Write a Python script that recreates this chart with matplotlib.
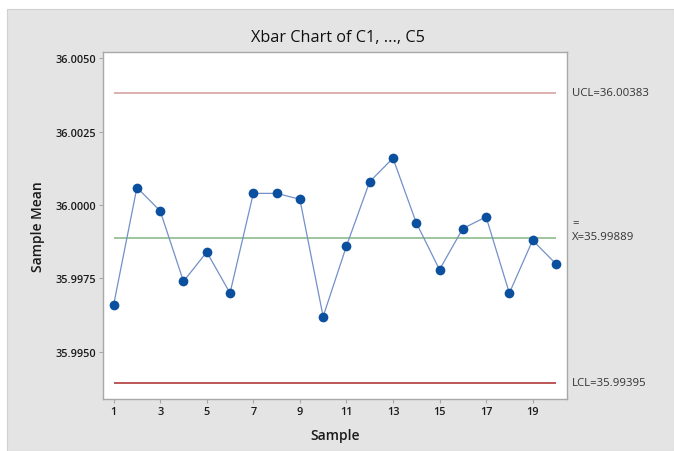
import matplotlib
matplotlib.use("Agg")
import matplotlib.pyplot as plt
from matplotlib.patches import Rectangle

# Subgroup means for samples 1..20
samples = list(range(1, 21))
means = [35.9966, 36.0006, 35.9998, 35.9974, 35.9984, 35.9970, 36.0004, 36.0004,
         36.0002, 35.9962, 35.9986, 36.0008, 36.0016, 35.9994, 35.9978, 35.9992,
         35.9996, 35.9970, 35.9988, 35.9980]

ucl = 36.00383
center = 35.99889
lcl = 35.99395

yticks = [35.9950, 35.9975, 36.0000, 36.0025, 36.0050]
ytick_labels = ["35.9950", "35.9975", "36.0000", "36.0025", "36.0050"]
xticks = [1, 3, 5, 7, 9, 11, 13, 15, 17, 19]

plt.rcParams['font.family'] = ['Open Sans', 'DejaVu Sans']

W, H = 674, 452
fig = plt.figure(figsize=(W / 100, H / 100), dpi=100, facecolor="white")

# gray panel behind the chart
panel = Rectangle((7 / W, 0), 1 - 7 / W, 1 - 10 / H, transform=fig.transFigure,
                  facecolor="#e4e4e4", edgecolor="#d0d0d0", lw=0.8, zorder=-10)
fig.add_artist(panel)

ax = fig.add_axes([102.7 / W, 1 - 400 / H, (567.3 - 102.7) / W, (400 - 53) / H])
ax.set_zorder(1)
ax.set_facecolor("white")

ax.set_xlim(0.53, 20.49)
ax.set_ylim(35.99339, 36.00522)

ax.hlines(ucl, 1, 20, color="#d9a3a3", lw=1.2, zorder=2)
ax.hlines(lcl, 1, 20, color="#b03a3a", lw=1.2, zorder=2)
ax.hlines(center, 1, 20, color="#8dbb8d", lw=1.2, zorder=2)

ax.plot(samples, means, color="#7390c8", lw=0.9, zorder=3)
ax.plot(samples, means, linestyle="none", marker="o", markersize=7,
        color="#0b4f9f", markeredgewidth=0, zorder=4)

ax.set_yticks(yticks)
ax.set_yticklabels(ytick_labels)
ax.set_xticks(xticks)
for s in ax.spines.values():
    s.set_color("#a8a8a8")
    s.set_linewidth(1.0)
ax.tick_params(axis="both", direction="out", length=3, width=0.8, color="#a8a8a8",
               labelsize=7.8, labelcolor="#1a1a1a", pad=2)
for lab in ax.get_xticklabels() + ax.get_yticklabels():
    lab.set_fontweight("semibold")

ax.set_ylabel("Sample Mean", fontsize=10, fontweight="semibold", color="#1a1a1a", labelpad=7)
ax.set_xlabel("Sample", fontsize=10, fontweight="semibold", color="#1a1a1a", labelpad=8)

fig.text(338 / W, 1 - 38 / H, "Xbar Chart of C1, ..., C5", ha="center", va="center",
         fontsize=11.7, color="#111111")

# limit labels in the right margin
lx = 572 / W
fs = 8.2
fig.text(lx, 1 - 94 / H, f"UCL={ucl:.5f}", ha="left", va="center", fontsize=fs, color="#333333")
fig.text(lx, 1 - 224 / H, "=", ha="left", va="center", fontsize=fs, color="#333333")
fig.text(lx, 1 - 238 / H, f"X={center:.5f}", ha="left", va="center", fontsize=fs, color="#333333")
fig.text(lx, 1 - 383 / H, f"LCL={lcl:.5f}", ha="left", va="center", fontsize=fs, color="#333333")

fig.savefig("out.png", dpi=100, facecolor="white")
